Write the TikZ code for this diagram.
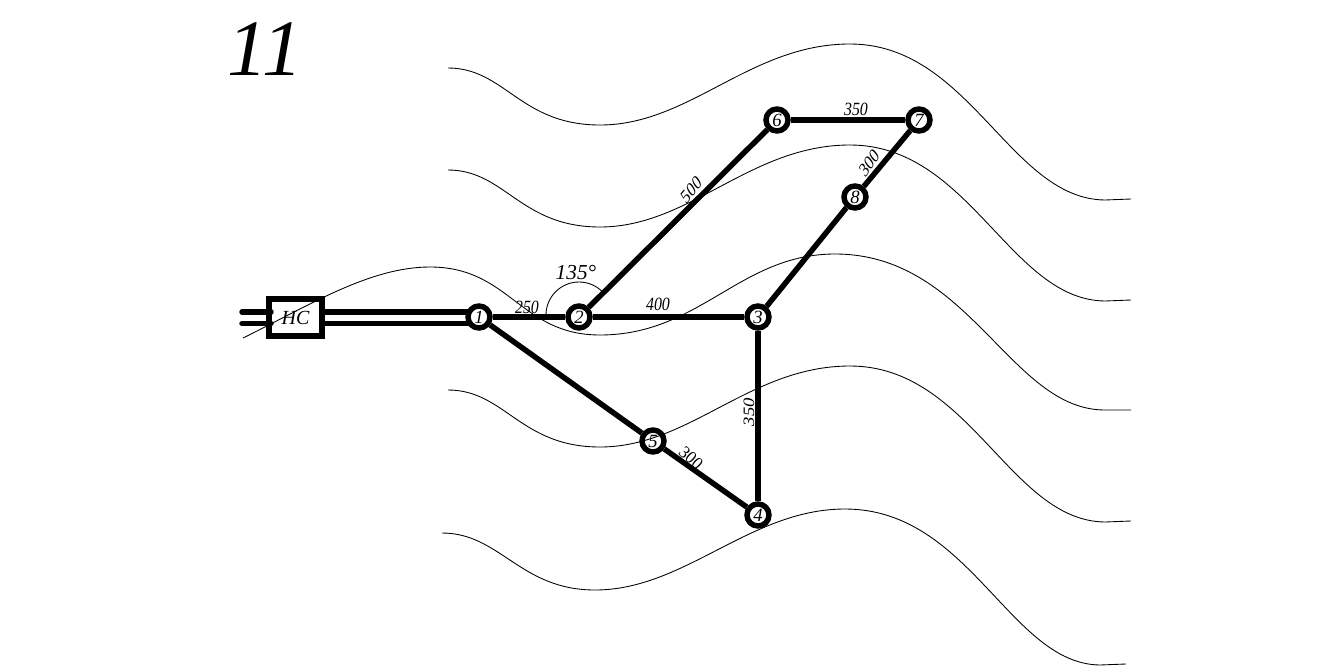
\documentclass[tikz,border=0pt]{standalone}
\usepackage{fontspec}
\setmainfont{Liberation Serif}
\tikzset{
  junction/.style={circle,draw=black,fill=white,line width=4.1pt,minimum size=16.5pt,inner sep=0pt,font=\itshape\fontsize{14}{14}\selectfont},
  pipe/.style={line width=4.1pt,line cap=butt},
  contour/.style={line width=0.65pt,black},
  dim/.style={inner sep=0pt,font=\itshape\fontsize{14}{14}\selectfont,xscale=.85},
  meter/.style={rectangle,draw=black,fill=white,line width=4.1pt,minimum width=40pt,minimum height=27.5pt,inner sep=0pt,font=\itshape\fontsize{15}{15}\selectfont}
}
\begin{document}
\begin{tikzpicture}[x=0.75pt,y=-0.75pt]
\useasboundingbox (0,0) rectangle (1340,668);
% nodes
\node[meter] (hc) at (295.5,317.5) {HC};
\node[junction] (n1) at (479,317) {1};
\node[junction] (n2) at (579,317) {2};
\node[junction] (n3) at (758,317) {3};
\node[junction] (n4) at (758,515) {4};
\node[junction] (n5) at (653,441) {5};
\node[junction] (n6) at (777,120) {6};
\node[junction] (n7) at (919,120) {7};
\node[junction] (n8) at (855,197) {8};
% free ends and pipe anchors
\coordinate (ia) at (242,312);
\coordinate (ib) at (242,323.5);
\coordinate (ha) at (271,312);
\coordinate (hb) at (271,323.5);
\coordinate (oa) at (320,312);
\coordinate (ob) at (320,323.5);
\coordinate (ea) at (469,312);
\coordinate (eb) at (469,323.5);
% connectors
\draw[pipe,line cap=round] (ia) -- (ha);
\draw[pipe,line cap=round] (ib) -- (hb);
\draw[pipe] (oa) -- (ea);
\draw[pipe] (ob) -- (eb);
\draw[pipe] (n1) -- (n2);
\draw[pipe] (n2) -- (n3);
\draw[pipe] (n3) -- (n4);
\draw[pipe] (n1) -- (n5);
\draw[pipe] (n5) -- (n4);
\draw[pipe] (n2) -- (n6);
\draw[pipe] (n6) -- (n7);
\draw[pipe] (n7) -- (n8);
\draw[pipe] (n8) -- (n3);
% contours
\draw[contour] (448,68) .. controls (505,68) and (520,125) .. (600,125)
  .. controls (690,125) and (750,44) .. (850,44)
  .. controls (970,44) and (1010,199) .. (1105,200) -- (1131,199);
\draw[contour] (448,170) .. controls (505,170) and (520,227) .. (600,227)
  .. controls (690,227) and (750,145) .. (850,145)
  .. controls (970,145) and (1010,300) .. (1105,301) -- (1131,300);
\draw[contour] (243,338) .. controls (310,305) and (370,267) .. (430,267)
  .. controls (510,267) and (520,335) .. (600,335)
  .. controls (700,335) and (740,254) .. (835,254)
  .. controls (970,254) and (1010,410) .. (1105,410) -- (1131,410);
\draw[contour] (448,390) .. controls (505,390) and (520,447) .. (600,447)
  .. controls (690,447) and (750,366) .. (850,366)
  .. controls (970,366) and (1010,521) .. (1105,522) -- (1131,521);
\draw[contour] (442,533) .. controls (500,533) and (520,590) .. (595,590)
  .. controls (685,590) and (750,509) .. (845,509)
  .. controls (970,509) and (1010,664) .. (1100,665) -- (1126,664);
% angle mark
\draw[contour] (546,315) arc[start angle=180,end angle=315,radius=33];
% labels
\node[inner sep=0pt,font=\itshape\fontsize{60}{60}\selectfont] (title) at (265,49) {11};
\node[inner sep=0pt,font=\itshape\fontsize{16}{16}\selectfont] (ang) at (576,273) {135°};
\node[dim] (l250) at (527,307) {250};
\node[dim] (l400) at (658,304) {400};
\node[dim] (l350a) at (856,109) {350};
\node[dim,rotate=47] (l500) at (691,190) {500};
\node[dim,rotate=52] (l300a) at (869,163) {300};
\node[dim,rotate=90] (l350b) at (749,412) {350};
\node[dim,rotate=-38] (l300b) at (691,458) {300};
\end{tikzpicture}
\end{document}
